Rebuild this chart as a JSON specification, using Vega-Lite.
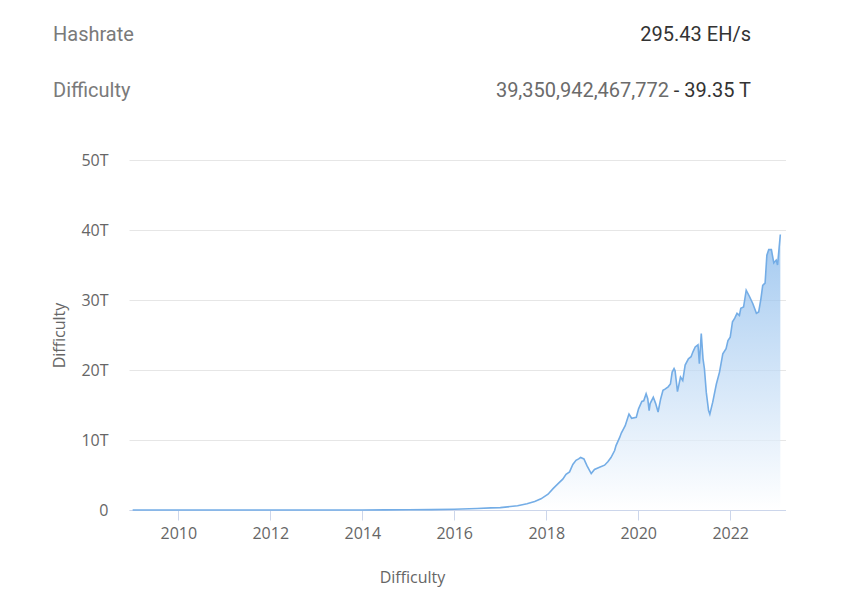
{
  "$schema": "https://vega.github.io/schema/vega-lite/v6.json",
  "background": "white",
  "padding": {"left": 51, "top": 7, "right": 0, "bottom": 20},
  "config": {"view": {"stroke": null}, "font": "Open Sans"},
  "spacing": 33,
  "resolve": {"scale": {"x": "independent", "y": "independent"}},
  "vconcat": [
    {
      "width": 657,
      "height": 112,
      "data": {"values": [
        {"row": 1, "label": "Hashrate", "value": "295.43 EH/s", "short": ""},
        {"row": 2, "label": "Difficulty", "value": "39,350,942,467,772", "short": "- 39.35 T"}
      ]},
      "encoding": {
        "y": {"field": "row", "type": "ordinal", "scale": {"type": "point", "padding": 0.5}, "axis": null}
      },
      "layer": [
        {
          "mark": {"type": "text", "align": "left", "baseline": "middle", "font": "Roboto", "fontSize": 20, "color": "#7a7a7a"},
          "encoding": {
            "x": {"datum": "name", "type": "nominal", "scale": {"type": "point", "domain": ["name", "value"], "range": [-76, 622], "padding": 0}, "axis": null},
            "text": {"field": "label"}
          }
        },
        {
          "transform": [{"filter": "datum.row == 1"}],
          "mark": {"type": "text", "align": "right", "baseline": "middle", "font": "Roboto", "fontSize": 20, "color": "#333333"},
          "encoding": {
            "x": {"datum": "value", "type": "nominal", "scale": {"type": "point", "domain": ["name", "value"], "range": [-76, 622], "padding": 0}, "axis": null},
            "text": {"field": "value"}
          }
        },
        {
          "transform": [{"filter": "datum.row == 2"}],
          "mark": {"type": "text", "align": "right", "baseline": "middle", "font": "Roboto", "fontSize": 20, "color": "#333333"},
          "encoding": {
            "x": {"datum": "value", "type": "nominal", "scale": {"type": "point", "domain": ["name", "value"], "range": [-76, 622], "padding": 0}, "axis": null},
            "text": {"field": "short"}
          }
        },
        {
          "transform": [{"filter": "datum.row == 2"}],
          "mark": {"type": "text", "align": "right", "baseline": "middle", "font": "Roboto", "fontSize": 20, "color": "#6b6b6b", "dx": -82},
          "encoding": {
            "x": {"datum": "value", "type": "nominal", "scale": {"type": "point", "domain": ["name", "value"], "range": [-76, 622], "padding": 0}, "axis": null},
            "text": {"field": "value"}
          }
        }
      ]
    },
    {
      "width": 657,
      "height": 350,
      "data": {"values": [
        {"date": "2009-01-03", "difficulty": 0},
        {"date": "2010-01-01", "difficulty": 0},
        {"date": "2011-01-01", "difficulty": 0},
        {"date": "2012-01-01", "difficulty": 0},
        {"date": "2013-01-01", "difficulty": 0.00001},
        {"date": "2014-01-01", "difficulty": 0.0014},
        {"date": "2014-07-01", "difficulty": 0.017},
        {"date": "2015-01-01", "difficulty": 0.04},
        {"date": "2015-07-01", "difficulty": 0.06},
        {"date": "2016-01-01", "difficulty": 0.10},
        {"date": "2016-07-01", "difficulty": 0.21},
        {"date": "2016-10-20", "difficulty": 0.30},
        {"date": "2017-01-01", "difficulty": 0.34},
        {"date": "2017-05-18", "difficulty": 0.6},
        {"date": "2017-08-01", "difficulty": 0.9},
        {"date": "2017-10-01", "difficulty": 1.2},
        {"date": "2017-11-20", "difficulty": 1.6},
        {"date": "2018-01-15", "difficulty": 2.25},
        {"date": "2018-02-24", "difficulty": 3.05},
        {"date": "2018-04-01", "difficulty": 3.7},
        {"date": "2018-05-12", "difficulty": 4.4},
        {"date": "2018-06-07", "difficulty": 5.1},
        {"date": "2018-07-05", "difficulty": 5.45},
        {"date": "2018-07-31", "difficulty": 6.5},
        {"date": "2018-08-25", "difficulty": 7.1},
        {"date": "2018-09-15", "difficulty": 7.3},
        {"date": "2018-10-01", "difficulty": 7.5},
        {"date": "2018-10-27", "difficulty": 7.3},
        {"date": "2018-11-21", "difficulty": 6.3},
        {"date": "2018-12-24", "difficulty": 5.2},
        {"date": "2019-01-19", "difficulty": 5.8},
        {"date": "2019-02-28", "difficulty": 6.1},
        {"date": "2019-04-09", "difficulty": 6.4},
        {"date": "2019-05-05", "difficulty": 6.9},
        {"date": "2019-05-30", "difficulty": 7.5},
        {"date": "2019-06-28", "difficulty": 8.5},
        {"date": "2019-07-09", "difficulty": 9.2},
        {"date": "2019-08-08", "difficulty": 10.4},
        {"date": "2019-08-20", "difficulty": 11.0},
        {"date": "2019-09-20", "difficulty": 12.05},
        {"date": "2019-10-16", "difficulty": 13.5},
        {"date": "2019-10-20", "difficulty": 13.7},
        {"date": "2019-11-10", "difficulty": 13.1},
        {"date": "2019-12-17", "difficulty": 13.25},
        {"date": "2020-01-04", "difficulty": 14.45},
        {"date": "2020-01-30", "difficulty": 15.5},
        {"date": "2020-02-14", "difficulty": 15.6},
        {"date": "2020-03-04", "difficulty": 16.6},
        {"date": "2020-03-17", "difficulty": 15.9},
        {"date": "2020-03-28", "difficulty": 14.2},
        {"date": "2020-04-05", "difficulty": 15.2},
        {"date": "2020-04-30", "difficulty": 16.1},
        {"date": "2020-05-19", "difficulty": 15.2},
        {"date": "2020-06-07", "difficulty": 14.0},
        {"date": "2020-06-28", "difficulty": 15.9},
        {"date": "2020-07-16", "difficulty": 17.1},
        {"date": "2020-08-04", "difficulty": 17.3},
        {"date": "2020-08-26", "difficulty": 17.6},
        {"date": "2020-09-13", "difficulty": 18.0},
        {"date": "2020-09-27", "difficulty": 19.7},
        {"date": "2020-10-12", "difficulty": 20.2},
        {"date": "2020-10-20", "difficulty": 19.9},
        {"date": "2020-11-08", "difficulty": 16.9},
        {"date": "2020-12-02", "difficulty": 19.0},
        {"date": "2020-12-20", "difficulty": 18.5},
        {"date": "2021-01-08", "difficulty": 20.7},
        {"date": "2021-02-03", "difficulty": 21.6},
        {"date": "2021-02-24", "difficulty": 21.9},
        {"date": "2021-03-11", "difficulty": 22.6},
        {"date": "2021-03-29", "difficulty": 23.3},
        {"date": "2021-04-20", "difficulty": 23.6},
        {"date": "2021-05-01", "difficulty": 20.9},
        {"date": "2021-05-16", "difficulty": 25.2},
        {"date": "2021-05-30", "difficulty": 21.6},
        {"date": "2021-06-10", "difficulty": 20.2},
        {"date": "2021-06-25", "difficulty": 16.8},
        {"date": "2021-07-13", "difficulty": 14.2},
        {"date": "2021-07-23", "difficulty": 13.7},
        {"date": "2021-08-15", "difficulty": 15.4},
        {"date": "2021-09-13", "difficulty": 18.0},
        {"date": "2021-10-08", "difficulty": 19.7},
        {"date": "2021-11-03", "difficulty": 22.3},
        {"date": "2021-11-29", "difficulty": 23.05},
        {"date": "2021-12-14", "difficulty": 24.2},
        {"date": "2022-01-01", "difficulty": 24.7},
        {"date": "2022-01-19", "difficulty": 26.9},
        {"date": "2022-02-06", "difficulty": 27.4},
        {"date": "2022-02-24", "difficulty": 28.1},
        {"date": "2022-03-15", "difficulty": 27.8},
        {"date": "2022-03-26", "difficulty": 28.8},
        {"date": "2022-04-17", "difficulty": 29.0},
        {"date": "2022-05-08", "difficulty": 31.4},
        {"date": "2022-06-03", "difficulty": 30.5},
        {"date": "2022-06-29", "difficulty": 29.5},
        {"date": "2022-07-28", "difficulty": 28.1},
        {"date": "2022-08-15", "difficulty": 28.3},
        {"date": "2022-09-02", "difficulty": 30.2},
        {"date": "2022-09-16", "difficulty": 32.1},
        {"date": "2022-10-05", "difficulty": 32.4},
        {"date": "2022-10-19", "difficulty": 36.4},
        {"date": "2022-11-03", "difficulty": 37.2},
        {"date": "2022-11-24", "difficulty": 37.2},
        {"date": "2022-12-13", "difficulty": 35.3},
        {"date": "2023-01-01", "difficulty": 35.7},
        {"date": "2023-01-12", "difficulty": 35.0},
        {"date": "2023-02-03", "difficulty": 39.35}
      ]},
      "mark": {
        "type": "area",
        "color": {"gradient": "linear", "x1": 1, "y1": 1, "x2": 1, "y2": 0, "stops": [{"offset": 0, "color": "#ffffff"}, {"offset": 1, "color": "#7db3ea"}]},
        "line": {"color": "#74ade6", "strokeWidth": 1.6}
      },
      "encoding": {
        "x": {
          "field": "date", "type": "temporal",
          "scale": {"domain": [{"year": 2008, "month": "December", "date": 5}, {"year": 2023, "month": "March", "date": 20}]},
          "axis": {
            "title": "Difficulty", "titleX": 283, "titleFontSize": 16, "titleFontWeight": "normal", "titleColor": "#666666", "titleFont": "Open Sans", "titlePadding": 28,
            "tickCount": {"interval": "year", "step": 2}, "format": "%Y", "grid": false,
            "domainColor": "#ccd6eb", "tickColor": "#ccd6eb", "tickSize": 10,
            "labelFontSize": 16, "labelColor": "#666666", "labelFont": "Open Sans", "labelPadding": 5, "labelFlush": false
          }
        },
        "y": {
          "field": "difficulty", "type": "quantitative",
          "scale": {"domain": [0, 50], "nice": false},
          "axis": {
            "title": "Difficulty", "titleFontSize": 16, "titleFontWeight": "normal", "titleColor": "#666666", "titleFont": "Open Sans", "titlePadding": 13,
            "values": [0, 10, 20, 30, 40, 50], "labelExpr": "datum.value == 0 ? '0' : datum.value + 'T'",
            "domain": false, "ticks": false, "grid": true, "gridColor": "#e6e6e6",
            "labelFontSize": 16, "labelColor": "#666666", "labelFont": "Open Sans", "labelPadding": 21
          }
        }
      }
    }
  ]
}
